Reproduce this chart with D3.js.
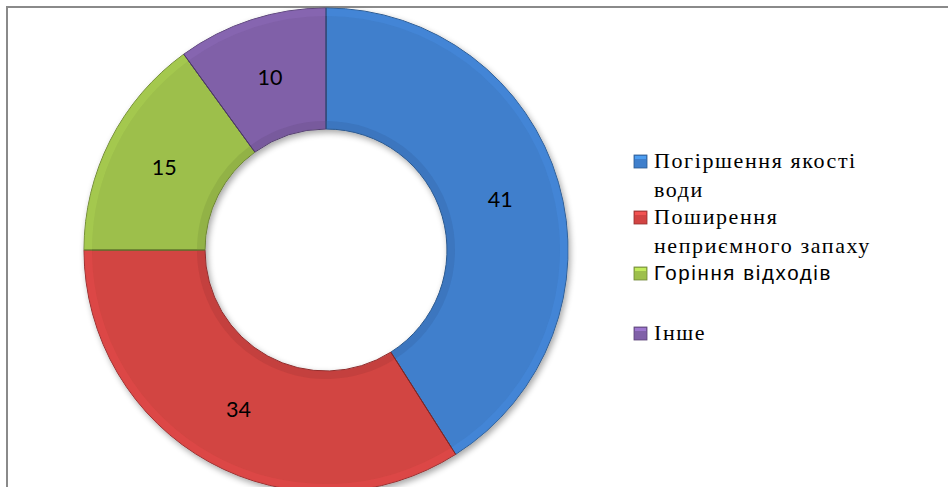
<!DOCTYPE html>
<html>
<head>
<meta charset="utf-8">
<script src="https://cdn.jsdelivr.net/npm/d3@7.9.0/dist/d3.min.js"></script>
<style>
  html, body { margin: 0; padding: 0; background: #fff; }
  svg { display: block; }
  .serif { font-family: "Liberation Serif", "Times New Roman", serif; font-size: 22px; letter-spacing: 1.6px; }
  .sans { font-family: "Liberation Sans", Arial, sans-serif; font-size: 20.5px; letter-spacing: 1.6px; }
</style>
</head>
<body>
<svg id="chart" width="948" height="487"></svg>
<script>
// ---------- Data ----------
const categories = ["Погіршення якості води", "Поширення неприємного запаху", "Горіння відходів", "Інше"];
const values = [41, 34, 15, 10];
const colors = ["#3f7fcc", "#d24443", "#9dbf4b", "#8060a8"];
// legend rows: text lines per entry, and font class per entry
const legendLines = [["Погіршення якості", "води"], ["Поширення", "неприємного запаху"], ["Горіння відходів"], ["Інше"]];
const legendFonts = ["serif", "serif", "sans", "serif"];

const width = 948, height = 487;
const cx = 326, cy = 250;
const outerR = 242, innerR = 121;

const svg = d3.select("#chart");
const defs = svg.append("defs");

// soft shadow
const shadow = defs.append("filter").attr("id", "shadow")
  .attr("x", "-10%").attr("y", "-10%").attr("width", "120%").attr("height", "120%");
shadow.append("feGaussianBlur").attr("in", "SourceAlpha").attr("stdDeviation", 3);
shadow.append("feOffset").attr("dx", 2).attr("dy", 3).attr("result", "b");
shadow.append("feComponentTransfer").append("feFuncA").attr("type", "linear").attr("slope", 0.35);
const merge = shadow.append("feMerge");
merge.append("feMergeNode");
merge.append("feMergeNode").attr("in", "SourceGraphic");

// frame
svg.append("path")
  .attr("d", `M7,${height} L7,7 L${width},7`)
  .attr("fill", "none")
  .attr("stroke", "#8a8a8a")
  .attr("stroke-width", 2);

// ---------- Donut ----------
const pie = d3.pie().sort(null).value(d => d);
const arcs = pie(values);
const arc = d3.arc().innerRadius(innerR).outerRadius(outerR);
const bevelOuter = d3.arc().innerRadius(outerR - 8).outerRadius(outerR);
const bevelInner = d3.arc().innerRadius(innerR).outerRadius(innerR + 8);
const labelArc = d3.arc().innerRadius((innerR + outerR) / 2).outerRadius((innerR + outerR) / 2);

const g = svg.append("g").attr("transform", `translate(${cx},${cy})`);

g.append("g").attr("filter", "url(#shadow)")
  .selectAll("path")
  .data(arcs)
  .join("path")
  .attr("d", arc)
  .attr("fill", (d, i) => colors[i])
  .attr("stroke", (d, i) => d3.color(colors[i]).darker(1.2))
  .attr("stroke-width", 1);

// bevel highlights / shades
g.append("g").selectAll("path")
  .data(arcs)
  .join("path")
  .attr("d", bevelOuter)
  .attr("fill", (d, i) => d3.color(colors[i]).brighter(0.25))
  .attr("opacity", 0.5);

g.append("g").selectAll("path")
  .data(arcs)
  .join("path")
  .attr("d", bevelInner)
  .attr("fill", (d, i) => d3.color(colors[i]).darker(0.4))
  .attr("opacity", 0.5);

// segment separators
g.append("g").selectAll("line")
  .data(arcs)
  .join("line")
  .attr("x1", d => innerR * Math.sin(d.startAngle))
  .attr("y1", d => -innerR * Math.cos(d.startAngle))
  .attr("x2", d => outerR * Math.sin(d.startAngle))
  .attr("y2", d => -outerR * Math.cos(d.startAngle))
  .attr("stroke", (d, i) => d3.color(colors[i]).darker(1.5))
  .attr("stroke-width", 1);

// value labels
g.append("g").selectAll("text")
  .data(arcs)
  .join("text")
  .attr("transform", d => `translate(${labelArc.centroid(d)})`)
  .attr("text-anchor", "middle")
  .attr("dy", "0.36em")
  .attr("font-family", "Lato, 'Open Sans', sans-serif")
  .attr("font-size", 21.5)
  .attr("fill", "#000")
  .text(d => d.data);

// ---------- Legend ----------
const legendTop = [168, 224, 280, 340]; // baselines of first line of each entry
const lineStep = 29;

const legend = svg.append("g");
legendLines.forEach((lines, i) => {
  const row = legend.append("g");
  const c = d3.color(colors[i]);
  row.append("rect")
    .attr("x", 634).attr("y", legendTop[i] - 13)
    .attr("width", 13).attr("height", 13)
    .attr("fill", c)
    .attr("stroke", c.darker(1))
    .attr("stroke-width", 0.8);
  row.append("rect")
    .attr("x", 635).attr("y", legendTop[i] - 12)
    .attr("width", 11).attr("height", 3)
    .attr("fill", c.brighter(0.8))
    .attr("opacity", 0.7);
  lines.forEach((t, j) => {
    row.append("text")
      .attr("class", legendFonts[i])
      .attr("x", 654)
      .attr("y", legendTop[i] + j * lineStep)
      .attr("fill", "#000")
      .text(t);
  });
});
</script>
</body>
</html>
